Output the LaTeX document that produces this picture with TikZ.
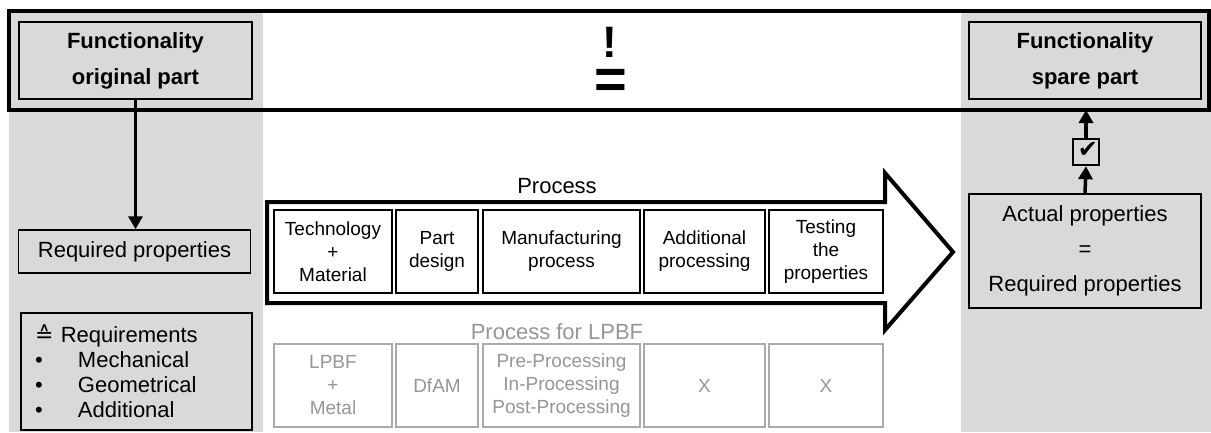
\documentclass[tikz,border=0pt]{standalone}
\usepackage{fontspec}
\setmainfont{Liberation Sans}
\newfontfamily\symfont{DejaVu Sans}
\usetikzlibrary{arrows.meta}

\definecolor{bggray}{RGB}{217,217,217}
\definecolor{lpbftext}{RGB}{150,150,150}
\definecolor{lpbfline}{RGB}{170,170,170}

\newcommand{\bigtxt}{\fontsize{22}{27}\selectfont}
\newcommand{\boxtxt}{\fontsize{19}{23}\selectfont}

\begin{document}
\begin{tikzpicture}[x=1pt,y=-1pt,
    graybox/.style={draw, line width=1.5pt, fill=bggray, inner sep=0pt, align=center, font=\bigtxt},
    stepbox/.style={draw, line width=1.5pt, fill=white, inner sep=0pt, align=center, font=\boxtxt},
    lpbfbox/.style={stepbox, draw=lpbfline, text=lpbftext},
    bigarrow/.style={-{Triangle[width=14pt,length=13pt]}, line width=3.5pt}]
        \useasboundingbox (0,0) rectangle (1211,432);
        % Gray columns
        \fill[bggray] (9,11) rectangle (263,432);
        \fill[bggray] (961,11) rectangle (1211,432);
        % Frame
        \draw[line width=4pt] (9,11) rectangle (1209,110);
        \node[graybox, minimum width=233pt, minimum height=77pt, font=\fontsize{22}{36}\selectfont\bfseries]
            (orig) at (135.5,60.5) {Functionality\\original part};
        \node[graybox, minimum width=232pt, minimum height=77pt, font=\fontsize{22}{36}\selectfont\bfseries]
            (spare) at (1085,60.5) {Functionality\\spare part};
        \node[inner sep=0pt, text height=32pt, text depth=0pt, font=\fontsize{44}{44}\selectfont\bfseries]
            (excl) at (610,41) {!};
        \node[inner sep=0pt, text height=34pt, text depth=0pt, font=\fontsize{56}{56}\selectfont\bfseries]
            (eq) at (611,81) {=};
        % Left column
        \node[graybox, minimum width=232pt, minimum height=43pt] (reqprop) at (134.5,251.5) {Required properties};
        \node[graybox, text width=203pt, inner xsep=14pt, minimum height=117pt, align=left,
            font=\fontsize{22}{25}\selectfont] (reqs) at (136.5,371.5)
            {{\symfont ≙} Requirements\\
             \makebox[43pt][l]{•}Mechanical\\
             \makebox[43pt][l]{•}Geometrical\\
             \makebox[43pt][l]{•}Additional};
        \draw[bigarrow] (orig.south) -- (orig.south |- reqprop.north);
        % Process arrow
        \draw[line width=4pt, fill=white, line join=miter]
            (267,202) -- (885,202) -- (885,173) -- (953,252) -- (885,330) -- (885,303) -- (267,303) -- cycle;
        \node[font=\bigtxt] (proc) at (557,186) {Process};
        \node[font=\bigtxt, text=lpbftext] (proclpbf) at (557,332) {Process for LPBF};
        % Steps
        \foreach \n/\cx/\w/\t in {tech/333/118/{Technology\\+\\Material}, design/437/82/{Part\\design},
                manu/561.5/157/{Manufacturing\\process}, add/704.5/121/{Additional\\processing},
                test/826/114/{Testing\\the\\properties}}
            \node[stepbox, minimum width=\w pt, minimum height=83pt] (p\n) at (\cx,251.5) {\t};
        \foreach \n/\cx/\w/\t in {tech/333/118/{LPBF\\+\\Metal}, design/437/82/{DfAM},
                manu/561.5/157/{Pre-Processing\\In-Processing\\Post-Processing}, add/704.5/121/{X},
                test/826/114/{X}}
            \node[lpbfbox, minimum width=\w pt, minimum height=83pt] (l\n) at (\cx,385.5) {\t};
        % Right column
        \node[graybox, minimum width=232pt, minimum height=114pt, font=\fontsize{22}{35}\selectfont]
            (actual) at (1085,251) {Actual properties\\=\\Required properties};
        \node[draw, line width=2.5pt, minimum size=26pt, inner sep=0pt] (check) at (1086,152) {};
        \node[font=\symfont\fontsize{24}{24}\selectfont, inner sep=0pt] (tick) at (1088,150) {✔};
        \coordinate (framebot) at (1086,110);
        \draw[bigarrow] (actual.north) -- (check.south);
        \draw[bigarrow] (check.north) -- (framebot);
    \end{tikzpicture}
\end{document}
